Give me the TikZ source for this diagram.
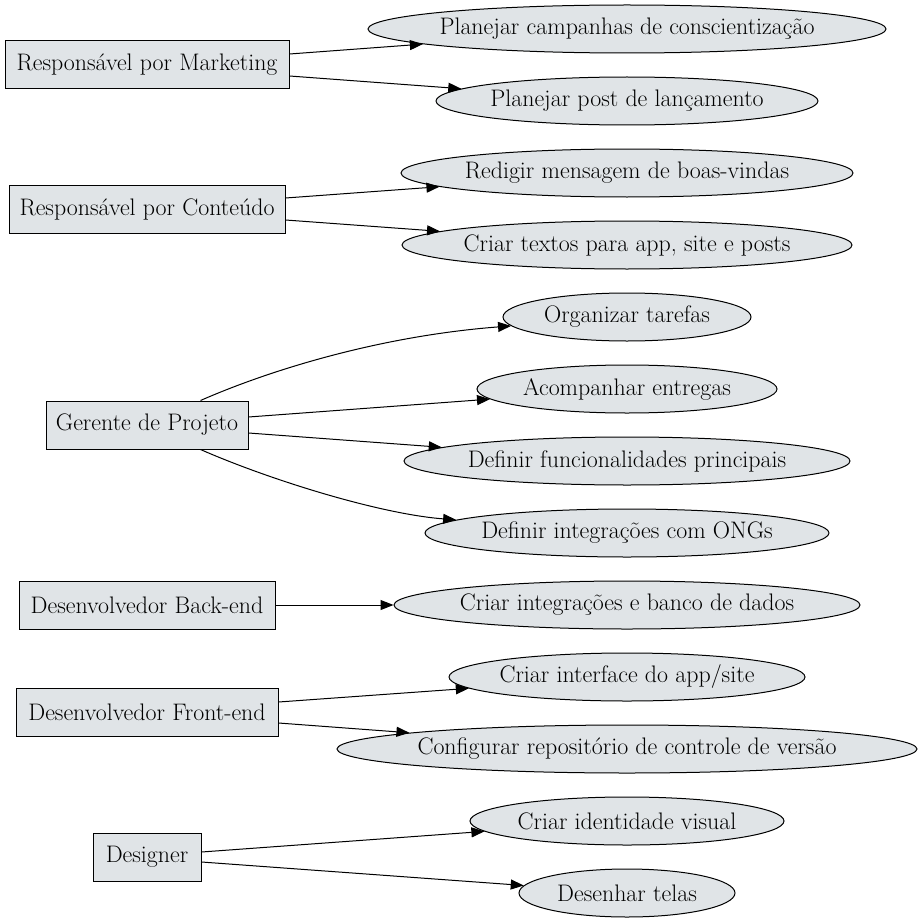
\documentclass[tikz,border=0pt]{standalone}
\usetikzlibrary{shapes.geometric,arrows.meta}
\definecolor{nodefill}{RGB}{224,228,231}
\newcommand\zwtext[1]{\makebox[0pt]{#1}}
\begin{document}
\begin{tikzpicture}[x=1pt,y=-1pt,
  font=\fontsize{23.9}{28}\selectfont,
  rolebox/.style={draw=black,line width=1pt,fill=nodefill,rectangle,inner sep=0pt,minimum height=48pt},
  taskell/.style={draw=black,line width=1pt,fill=nodefill,ellipse,inner sep=0pt,minimum height=48pt},
  edge/.style={draw=black,line width=1pt,-{Triangle[length=13pt,width=10pt]}}]
\useasboundingbox (0,0) rectangle (922,923);
% roles
\node[rolebox,minimum width=284pt] (m) at (147,65) {Responsável por Marketing};
\node[rolebox,minimum width=276pt] (c) at (147,209) {Responsável por Conteúdo};
\node[rolebox,minimum width=202pt] (g) at (147,425) {Gerente de Projeto};
\node[rolebox,minimum width=256pt] (b) at (147,605) {Desenvolvedor Back-end};
\node[rolebox,minimum width=262pt] (f) at (147,712) {Desenvolvedor Front-end};
\node[rolebox,minimum width=108pt] (d) at (147,857) {Designer};
% tasks
\node[taskell,minimum width=518pt] (t1) at (627,29) {\zwtext{Planejar campanhas de conscientização}};
\node[taskell,minimum width=382pt] (t2) at (627,101) {\zwtext{Planejar post de lançamento}};
\node[taskell,minimum width=452pt] (t3) at (627,173) {\zwtext{Redigir mensagem de boas-vindas}};
\node[taskell,minimum width=450pt] (t4) at (627,245) {\zwtext{Criar textos para app, site e posts}};
\node[taskell,minimum width=248pt] (t5) at (627,317) {\zwtext{Organizar tarefas}};
\node[taskell,minimum width=300pt] (t6) at (627,389) {\zwtext{Acompanhar entregas}};
\node[taskell,minimum width=446pt] (t7) at (627,461) {\zwtext{Definir funcionalidades principais}};
\node[taskell,minimum width=404pt] (t8) at (627,533) {\zwtext{Definir integrações com ONGs}};
\node[taskell,minimum width=466pt] (t9) at (627,605) {\zwtext{Criar integrações e banco de dados}};
\node[taskell,minimum width=356pt] (t10) at (627,677) {\zwtext{Criar interface do app/site}};
\node[taskell,minimum width=580pt] (t11) at (627,749) {\zwtext{Configurar repositório de controle de versão}};
\node[taskell,minimum width=314pt] (t12) at (627,821) {\zwtext{Criar identidade visual}};
\node[taskell,minimum width=216pt] (t13) at (627,893) {\zwtext{Desenhar telas}};
% edges
\draw[edge] ([yshift=11pt]m.east) -- (t1);
\draw[edge] ([yshift=-11pt]m.east) -- (t2);
\draw[edge] ([yshift=11pt]c.east) -- (t3);
\draw[edge] ([yshift=-11pt]c.east) -- (t4);
\draw[edge] ([xshift=-48pt]g.north east) .. controls (270,370) and (380,336) .. (t5);
\draw[edge] ([yshift=8pt]g.east) -- (t6);
\draw[edge] ([yshift=-8pt]g.east) -- (t7);
\draw[edge] ([xshift=-48pt]g.south east) .. controls (270,480) and (380,514) .. (t8);
\draw[edge] (b.east) -- (t9);
\draw[edge] ([yshift=10pt]f.east) -- (t10);
\draw[edge] ([yshift=-11pt]f.east) -- (t11);
\draw[edge] ([yshift=5pt]d.east) -- (t12);
\draw[edge] ([yshift=-5pt]d.east) -- (t13);
\end{tikzpicture}
\end{document}
